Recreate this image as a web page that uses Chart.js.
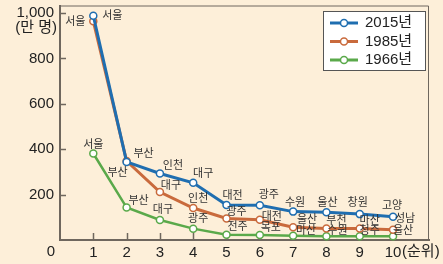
<!DOCTYPE html>
<html>
<head>
<meta charset="utf-8">
<script src="https://cdn.jsdelivr.net/npm/chart.js@4.4.1/dist/chart.umd.min.js"></script>
<style>
  html, body { margin: 0; padding: 0; background: #fdefd9; }
  #wrap { width: 443px; height: 264px; }
</style>
</head>
<body>
<div id="wrap"><canvas id="chart1" width="443" height="264"></canvas></div>
<script>
// data
const ranks = [1, 2, 3, 4, 5, 6, 7, 8, 9, 10];
const years = ["2015년", "1985년", "1966년"];
const pop2015 = [988, 344, 293, 252, 154, 153, 125, 122, 114, 102];
const pop1985 = [964, 348, 211, 141, 95, 89, 56, 51, 51, 45];
const pop1966 = [381, 143, 88, 50, 23, 22, 19, 16, 16, 16];
const city2015 = ["서울", "부산", "인천", "대구", "대전", "광주", "수원", "울산", "창원", "고양"];
const city1985 = ["서울", "부산", "대구", "인천", "광주", "대전", "울산", "부천", "마산", "성남"];
const city1966 = ["서울", "부산", "대구", "광주", "전주", "목포", "마산", "수원", "청주", "울산"];
const yTicks = [200, 400, 600, 800, 1000];
const xTicks = [1, 2, 3, 4, 5, 6, 7, 8, 9, 10];

// where each city name sits relative to its point (px)
const shift2015 = [[19, -1], [17, -9], [13, -9], [10, -10], [6, -10], [9, -11], [2, -10], [1, -10], [-2, -12], [-1, -12]];
const shift1985 = [[-18, 0], [-9, 11], [11, -7], [5, -10], [10, -8], [12, -4], [14, -8], [10, -9], [10, -9], [12, -12]];
const shift1966 = [[0, -10], [12, -8], [3, -11], [5, -11], [11, -9], [11, -8], [13, -6], [11, -7], [10, -7], [10, -7]];

const BG = "#fdefd9";
const AXIS = "#6f675e";
const TXT = "#222";
const numFont = "15px 'Liberation Sans', 'Noto Sans CJK KR', sans-serif";
const lblFont = "11px 'Noto Sans CJK KR', sans-serif";

const colors = ["#1f6eb0", "#c96a3c", "#5aa94a"];
const cities = [city2015, city1985, city1966];
const shifts = [shift2015, shift1985, shift1966];

const bgPlugin = {
  id: "bg",
  beforeDraw(chart) {
    const c = chart.ctx;
    c.save();
    c.fillStyle = BG;
    c.fillRect(0, 0, chart.width, chart.height);
    c.restore();
  },
};

const framePlugin = {
  id: "frame",
  beforeDatasetsDraw(chart) {
    const c = chart.ctx;
    const a = chart.chartArea;
    const xs = chart.scales.x;
    const ys = chart.scales.y;
    c.save();
    c.strokeStyle = AXIS;
    c.lineWidth = 1;
    c.beginPath();
    c.moveTo(a.left, a.top + 0.5);
    c.lineTo(a.right - 0.5, a.top + 0.5);
    c.lineTo(a.right - 0.5, a.bottom);
    c.stroke();
    // tick marks inside the plot
    c.lineWidth = 1.5;
    c.beginPath();
    xs.ticks.forEach((t) => {
      const px = Math.round(xs.getPixelForValue(t.value)) + 0.5;
      c.moveTo(px, a.bottom);
      c.lineTo(px, a.bottom - 7);
    });
    ys.ticks.forEach((t) => {
      const py = Math.round(ys.getPixelForValue(t.value)) + 0.5;
      c.moveTo(a.left, py);
      c.lineTo(a.left + 6, py);
    });
    c.stroke();
    c.restore();
  },
};

const cityPlugin = {
  id: "cityLabels",
  afterDatasetsDraw(chart) {
    const c = chart.ctx;
    c.save();
    c.font = lblFont;
    c.fillStyle = "#333";
    c.textAlign = "center";
    c.textBaseline = "middle";
    chart.data.datasets.forEach((ds, i) => {
      const meta = chart.getDatasetMeta(i);
      meta.data.forEach((pt, j) => {
        const s = shifts[i][j];
        c.fillText(cities[i][j], pt.x + s[0], pt.y + s[1]);
      });
    });
    c.restore();
  },
};

const extraPlugin = {
  id: "extra",
  afterDraw(chart) {
    const c = chart.ctx;
    c.save();
    c.font = numFont;
    c.fillStyle = TXT;
    c.textBaseline = "middle";
    c.textAlign = "right";
    c.fillText("(만 명)", 57, 28);
    c.textAlign = "center";
    c.fillText("0", 51, 252);
    c.textAlign = "left";
    const x10 = chart.scales.x.getPixelForValue(10);
    c.fillText("(순위)", x10 + 9, 252);

    // legend
    const bx = 323.5, by = 11.5, bw = 102, bh = 59;
    c.fillStyle = "#fff";
    c.fillRect(bx, by, bw, bh);
    c.strokeStyle = "#555";
    c.lineWidth = 1;
    c.strokeRect(bx, by, bw, bh);
    chart.data.datasets.forEach((ds, i) => {
      const y = 23 + i * 18.5;
      c.strokeStyle = ds.borderColor;
      c.lineWidth = 3;
      c.beginPath();
      c.moveTo(330, y);
      c.lineTo(358, y);
      c.stroke();
      c.beginPath();
      c.arc(344, y, 3.5, 0, Math.PI * 2);
      c.fillStyle = "#fff";
      c.fill();
      c.lineWidth = 1.5;
      c.stroke();
      c.fillStyle = TXT;
      c.textAlign = "left";
      c.fillText(ds.label, 365, y);
    });
    c.restore();
  },
};

function lineSet(label, data, color, width) {
  return {
    label: label,
    data: ranks.map((r, i) => ({ x: r, y: data[i] })),
    borderColor: color,
    borderWidth: width,
    pointRadius: 3.5,
    pointBorderWidth: 1.5,
    pointBackgroundColor: "#fff",
    pointBorderColor: color,
    tension: 0,
    clip: false,
  };
}

const ctx1 = document.getElementById("chart1").getContext("2d");
const rankChart = new Chart(ctx1, {
  type: "line",
  data: {
    datasets: [
      lineSet(years[0], pop2015, colors[0], 3),
      lineSet(years[1], pop1985, colors[1], 3),
      lineSet(years[2], pop1966, colors[2], 2.5),
    ],
  },
  options: {
    responsive: false,
    animation: false,
    devicePixelRatio: 1,
    layout: { padding: { top: 5, right: 14, left: 0, bottom: 0 } },
    plugins: { legend: { display: false }, tooltip: { enabled: false } },
    scales: {
      x: {
        type: "linear",
        min: 0,
        max: 11.08,
        afterBuildTicks: (s) => { s.ticks = xTicks.map((v) => ({ value: v })); },
        afterFit: (s) => { s.height = 24; s.paddingLeft = 0; s.paddingRight = 0; },
        grid: { drawOnChartArea: false, drawTicks: false },
        border: { color: AXIS, width: 2 },
        ticks: {
          autoSkip: false,
          maxRotation: 0,
          padding: 4,
          color: TXT,
          font: { family: "'Liberation Sans', sans-serif", size: 15 },
          callback: (v) => String(v),
        },
      },
      y: {
        min: 0,
        max: 1033,
        afterBuildTicks: (s) => { s.ticks = yTicks.map((v) => ({ value: v })); },
        afterFit: (s) => { s.width = 60; s.paddingTop = 0; s.paddingBottom = 0; },
        grid: { drawOnChartArea: false, drawTicks: false },
        border: { color: AXIS, width: 2 },
        ticks: {
          padding: 6,
          color: TXT,
          font: { family: "'Liberation Sans', sans-serif", size: 15 },
          callback: (v) => (v === 1000 ? "1,000" : String(v)),
        },
      },
    },
  },
  plugins: [bgPlugin, framePlugin, cityPlugin, extraPlugin],
});
</script>
</body>
</html>
